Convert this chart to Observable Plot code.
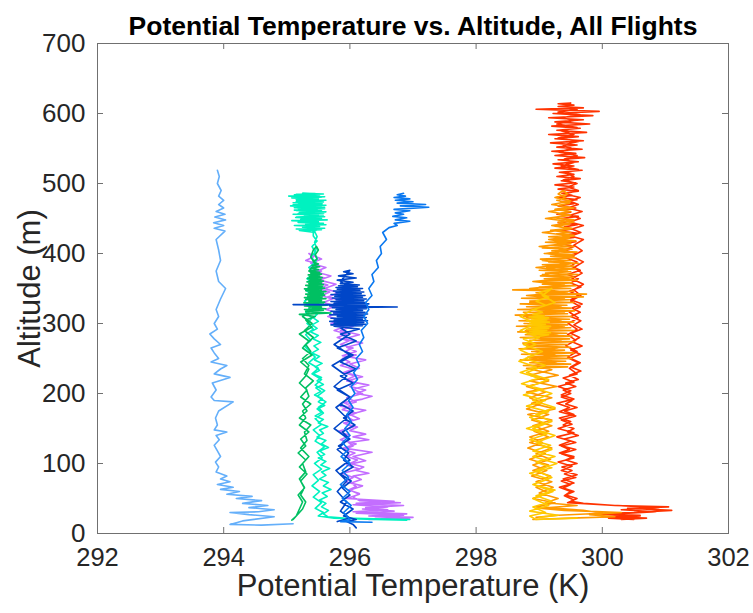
<!DOCTYPE html>
<html>
<head>
<meta charset="utf-8">
<script src="https://cdn.jsdelivr.net/npm/d3@7"></script>
<script src="https://cdn.jsdelivr.net/npm/@observablehq/plot@0.6"></script>
<style>
  html, body { margin: 0; padding: 0; background: #fff; }
  #chart svg { display: block; }
</style>
</head>
<body>
<div id="chart"></div>
<script>
// ---- Data: [potential temperature (K), altitude (m)] per flight, in flight order ----
const flightLightBlue = [[295.10,14],[294.60,12],[294.10,13],[294.30,18],[294.80,24],[294.40,27],[294.10,30],[294.55,31],[294.80,34],[294.40,37],[294.70,40],[294.30,43],[294.60,47],[294.20,50],[294.45,53],[294.05,56],[294.25,60],[293.95,63],[294.15,66],[293.90,70],[294.10,74],[293.95,78],[294.05,82],[293.88,88],[293.92,95],[293.87,102],[293.95,110],[293.90,118],[293.85,126],[293.93,134],[293.88,140],[294.05,145],[293.85,148],[293.90,155],[293.87,165],[293.92,175],[294.15,188],[293.85,190],[293.80,195],[293.88,205],[293.82,215],[294.10,223],[293.85,228],[293.95,235],[294.05,240],[293.80,245],[293.92,250],[293.85,258],[293.80,265],[293.95,270],[293.85,278],[293.78,285],[293.90,292],[293.85,300],[293.92,310],[293.88,320],[293.95,335],[294.03,350],[293.92,360],[293.88,375],[293.95,390],[293.92,405],[293.88,420],[294.02,432],[293.85,436],[294.00,440],[293.84,444],[294.03,448],[293.86,452],[294.02,456],[293.88,460],[294.00,465],[293.92,470],[294.00,476],[293.92,482],[293.96,490],[293.90,500],[293.93,510],[293.90,519]];

const flightPurple = [[296.30,20],[296.95,22],[296.40,24],[296.85,26],[296.10,29],[296.70,32],[296.20,35],[296.60,38],[296.05,41],[296.80,44],[296.15,47],[296.05,52],[296.15,57],[295.98,62],[296.10,67],[296.02,72],[296.18,77],[296.05,82],[296.30,86],[296.10,90],[296.22,95],[296.00,100],[296.12,105],[295.95,110],[296.08,115],[295.90,120],[296.05,125],[295.98,130],[296.30,134],[296.05,138],[296.25,142],[296.00,147],[296.12,152],[295.92,157],[296.05,162],[295.95,167],[296.10,172],[295.88,177],[296.02,182],[295.90,187],[296.20,192],[296.35,196],[296.10,200],[296.25,205],[296.00,210],[296.12,215],[295.95,220],[296.08,225],[295.90,230],[296.05,235],[295.85,240],[296.00,245],[295.88,250],[296.10,255],[295.92,260],[296.05,265],[295.85,270],[295.98,275],[295.80,280],[295.95,285],[295.75,290],[295.90,295],[295.70,300],[295.85,305],[295.65,310],[295.80,315],[295.62,320],[295.78,325],[295.58,330],[295.72,335],[295.55,340],[295.68,345],[295.50,350],[295.65,355],[295.45,360],[295.60,365],[295.40,370],[295.55,375],[295.35,380],[295.50,385],[295.30,390],[295.42,395],[295.35,400],[295.40,398],[295.55,392],[295.38,386],[295.62,380],[295.45,374],[295.70,368],[295.52,362],[295.78,356],[295.60,350],[295.82,344],[295.65,338],[295.88,332],[295.70,326],[295.92,320],[295.75,314],[296.00,308],[295.80,302],[296.05,296],[295.85,290],[296.15,284],[295.90,278],[296.20,272],[295.95,266],[296.10,260],[295.88,254],[296.25,248],[296.00,242],[296.15,236],[295.92,230],[296.20,224],[295.95,218],[296.30,212],[296.05,206],[296.20,200],[295.95,194],[296.10,188],[295.85,182],[296.25,176],[296.00,170],[296.15,164],[295.90,158],[296.05,152],[295.82,146],[296.00,140],[295.85,134],[296.10,128],[295.90,122],[296.35,116],[296.05,110],[296.25,104],[295.95,98],[296.15,92],[295.88,86],[296.05,80],[295.92,74],[296.20,68],[296.00,62],[296.15,56],[295.95,50],[296.70,46],[296.10,43],[296.85,40],[296.25,37],[296.60,34],[296.05,31],[296.90,28],[296.30,25],[297.00,23],[296.50,21]];

const flightMint = [[296.95,20],[296.40,21],[295.90,22],[295.65,24],[295.58,28],[295.66,33],[295.55,38],[295.62,43],[295.52,48],[295.64,53],[295.56,58],[295.70,63],[295.58,68],[295.66,73],[295.52,78],[295.62,83],[295.55,88],[295.68,93],[295.54,98],[295.62,103],[295.50,108],[295.60,113],[295.52,118],[295.66,123],[295.55,128],[295.62,133],[295.48,138],[295.58,143],[295.52,148],[295.65,153],[295.50,158],[295.58,163],[295.45,168],[295.55,173],[295.48,178],[295.60,183],[295.50,188],[295.56,193],[295.44,198],[295.54,203],[295.46,208],[295.58,213],[295.48,218],[295.55,223],[295.42,228],[295.52,233],[295.45,238],[295.56,243],[295.44,248],[295.52,253],[295.40,258],[295.50,263],[295.43,268],[295.54,273],[295.42,278],[295.50,283],[295.38,288],[295.48,293],[295.40,298],[295.50,303],[295.42,308],[295.48,313],[295.38,318],[295.46,323],[295.40,330],[295.48,337],[295.42,344],[295.46,351],[295.40,358],[295.47,365],[295.42,372],[295.46,379],[295.43,386],[295.48,393],[295.44,400],[295.47,408],[295.44,416],[295.48,424],[295.45,430],
  [295.20,433],[295.55,434],[295.15,435],[295.60,436],[295.25,437.5],[295.52,438.5],[295.12,440],[295.62,441],[295.30,442],[295.58,443],[295.18,444.5],[295.50,445.5],[295.08,447],[295.64,448],[295.22,449],[295.55,450],[295.14,451.5],[295.60,452.5],[295.28,454],[295.50,455],[295.10,456],[295.58,457],[295.20,458.5],[295.62,459.5],[295.15,461],[295.48,462],[295.25,463],[295.60,464],[295.12,465.5],[295.55,466.5],[295.06,468],[295.62,469],[295.18,470],[295.52,471],[295.10,472.5],[295.58,473.5],[295.22,475],[295.62,476],[295.15,477],[295.50,478],[295.08,479.5],[295.55,480.5],[295.03,482],[295.48,483],[295.12,484],[295.58,485],[295.25,486],
  [295.45,485.5],[295.15,484.5],[295.52,483.5],[295.20,482],[295.60,481],[295.12,479.5],[295.50,478.5],[295.25,477],[295.62,476],[295.15,474.5],[295.48,473.5],[295.22,472],[295.56,471],[295.10,469.5],[295.52,468.5],[295.28,467],[295.60,466],[295.18,464.5],[295.45,463.5],[295.12,462],[295.55,461],[295.25,459.5],[295.60,458.5],[295.18,457],[295.50,456],[295.30,454.5],[295.58,453.5],[295.15,452],[295.48,451],[295.25,449.5],[295.55,448.5],[295.20,447],[295.45,446],[295.28,444.5],[295.52,443.5],[295.35,442],[295.48,441],[295.30,439.5],[295.50,438],[295.40,436],[295.48,434],[295.42,431],
  [295.42,425],[295.48,418],[295.40,410],[295.45,402],[295.38,395],[295.46,388],[295.35,380],[295.44,372],[295.32,364],[295.42,356],[295.30,348],[295.40,340],[295.28,332],[295.38,324],[295.30,316],[295.40,308],[295.32,300],[295.42,292],[295.30,284],[295.38,276],[295.28,268],[295.36,260],[295.45,252],[295.35,244],[295.50,236],[295.40,228],[295.55,220],[295.45,212],[295.60,204],[295.48,196],[295.62,188],[295.50,180],[295.58,172],[295.45,164],[295.55,156],[295.42,148],[295.52,140],[295.45,132],[295.60,124],[295.48,116],[295.56,108],[295.44,100],[295.55,92],[295.42,84],[295.50,76],[295.40,68],[295.52,60],[295.42,52],[295.55,44],[295.45,36],[295.58,30],[295.50,25],[295.75,22],[296.40,20],[296.90,19]];

const flightGreen = [[295.08,19],[295.15,25],[295.20,35],[295.25,45],[295.18,55],[295.28,65],[295.22,75],[295.32,85],[295.20,95],[295.30,105],[295.18,115],[295.30,125],[295.22,135],[295.35,145],[295.20,155],[295.30,165],[295.25,175],[295.38,185],[295.22,195],[295.32,205],[295.20,215],[295.30,225],[295.35,235],[295.22,245],[295.40,255],[295.25,265],[295.35,275],[295.20,285],[295.40,295],[295.30,305],[295.45,310],[295.20,313],[295.70,315],[295.30,317],
  [295.30,318],[295.58,319],[295.28,320],[295.62,321],[295.35,322.5],[295.55,323.5],[295.28,325],[295.64,326],[295.32,327],[295.58,328],[295.27,329.5],[295.60,330.5],[295.35,332],[295.55,333],[295.30,334.5],[295.62,335.5],[295.28,337],[295.56,338],[295.33,339.5],[295.60,340.5],[295.30,342],[295.58,343],[295.35,344.5],[295.62,345.5],[295.30,347],[295.55,348],[295.28,349.5],[295.60,350.5],[295.34,352],[295.56,353],[295.30,354.5],[295.58,355.5],[295.35,357],[295.55,358],[295.32,359.5],[295.58,360.5],[295.36,362],[295.54,363],[295.33,364.5],[295.56,365.5],[295.36,367],[295.52,368],[295.34,369.5],[295.55,370.5],[295.38,372],[295.52,373],[295.36,375],[295.50,377],[295.38,379],[295.52,381],[295.40,383],[295.50,385],[295.42,388],[295.48,392],[295.45,398],[295.50,405],[295.47,410],
  [295.42,405],[295.38,395],[295.45,385],[295.35,375],[295.52,365],[295.36,355],[295.55,345],[295.32,335],[295.50,325],[295.25,310],[295.40,300],[295.28,290],[295.42,280],[295.30,270],[295.38,260],[295.25,250],[295.35,240],[295.28,228],[295.42,218],[295.30,208],[295.35,196],[295.25,185],[295.32,175],[295.20,165],[295.38,155],[295.28,145],[295.32,133],[295.22,122],[295.35,110],[295.25,100],[295.30,88],[295.20,78],[295.28,66],[295.22,55],[295.30,45],[295.25,35],[295.15,25],[295.10,20]];

const flightDarkBlue = [[296.10,8],[296.05,13],[295.95,17],[296.10,20],[295.90,25],[296.05,35],[295.85,45],[296.00,55],[295.88,65],[296.02,75],[295.85,85],[296.05,95],[295.90,105],[295.98,115],[295.82,125],[296.00,135],[295.88,145],[296.08,155],[295.90,165],[296.05,175],[295.85,185],[296.00,195],[295.80,205],[296.05,215],[295.85,225],[296.10,235],[295.85,245],[296.05,255],[295.80,265],[296.10,275],[295.85,285],[296.15,292],
  [295.75,296],[296.20,297],[295.70,298],[296.25,299],[295.78,300.5],[296.22,301.5],[295.68,303],[296.28,304],[295.75,305],[296.20,306],[295.70,307.5],[296.26,308.5],[295.80,310],[296.22,311],[295.68,312.5],[296.28,313.5],[295.74,315],[296.24,316],[295.70,317.5],[296.20,318.5],[295.78,320],[296.26,321],[295.72,322.5],[296.75,323.5],[295.68,325],[296.28,326],[295.10,327],[296.30,328],[295.75,329],[296.25,330],[295.70,331.5],[296.22,332.5],[295.78,334],[296.26,335],[295.72,336.5],[296.20,337.5],[295.76,339],[296.24,340],[295.70,341.5],[296.18,342.5],[295.78,344],[296.22,345],[295.74,346.5],[296.16,347.5],[295.80,349],[296.20,350],[295.78,351.5],[296.12,352.5],[295.82,354],[296.15,355],[295.85,357],[296.05,359],[295.80,362],[296.10,365],[295.82,368],[296.05,371],[295.90,374],[296.00,376],
  [295.85,360],[296.10,345],[295.80,330],[296.05,315],[295.75,300],[296.00,285],[295.75,270],[296.00,255],[295.72,240],[295.95,225],[295.75,210],[296.00,195],[295.78,180],[295.95,165],[295.75,150],[295.98,135],[295.80,120],[296.00,105],[295.78,90],[295.95,75],[295.80,60],[295.95,45],[295.85,32],[296.00,22],[295.80,17]];

const flightBlue = [[296.35,16],[295.85,17],[296.00,20],[295.90,30],[296.02,40],[295.88,50],[296.00,60],[295.85,70],[295.98,80],[295.88,90],[296.00,100],[295.86,110],[295.98,120],[295.88,130],[296.00,140],[295.92,150],[296.02,160],[295.95,170],[296.05,180],[295.98,190],[296.08,200],[296.02,210],[296.12,220],[296.06,230],[296.15,240],[296.10,250],[296.20,260],[296.15,270],[296.22,280],[296.18,290],[296.28,300],[296.22,310],[296.30,320],[296.25,330],[296.35,340],[296.30,350],[296.38,360],[296.35,370],[296.45,380],[296.42,390],[296.50,400],[296.48,410],[296.58,420],[296.52,430],[296.62,437],[296.75,440],[296.70,443],[296.95,446],[296.72,448],[296.90,451],[296.68,453],[296.85,456],[296.72,458],[296.95,461],[296.70,463],[297.25,466],[296.80,468],[297.20,470],[296.75,472],[297.00,474],[296.72,476],[296.95,478],[296.70,480],[296.88,482],[296.75,484],[296.85,486]];

const flightRed = [[300.30,20],[300.70,22],[300.00,24],[300.60,26],[299.80,28],[300.50,30],[301.10,33],[300.40,36],[301.05,38],[300.20,40],[299.70,43],[299.50,46],[299.60,50],[299.42,55],[299.55,60],[299.38,65],[299.50,70],[299.35,75],[299.58,80],[299.40,85],[299.52,90],[299.36,95],[299.60,100],[299.42,105],[299.55,110],[299.32,115],[299.48,120],[299.35,125],[299.58,130],[299.40,135],[299.62,140],[299.45,145],[299.55,150],[299.38,155],[299.50,160],[299.32,165],[299.55,170],[299.40,175],[299.60,180],[299.42,185],[299.52,190],[299.35,195],[299.50,200],[299.38,205],[299.58,210],[299.42,215],[299.62,220],[299.48,226],[299.66,232],[299.50,238],[299.62,244],[299.48,250],[299.65,256],[299.50,262],[299.68,268],[299.52,274],[299.64,280],[299.50,286],[299.68,292],[299.55,298],[299.66,304],[299.50,310],[299.65,316],[299.52,322],[299.68,328],[299.50,334],[299.62,340],[299.48,346],[299.66,352],[299.50,358],[299.62,364],[299.45,370],[299.65,376],[299.50,382],[299.60,388],[299.42,394],[299.58,400],[299.40,405],[299.55,410],
  [299.35,414],[299.58,417],[299.30,420],[299.55,423],[299.38,426],[299.62,429],[299.32,432],[299.52,435],[299.40,438],[299.60,441],[299.30,444],[299.55,447],[299.35,450],[299.62,453],[299.28,456],[299.50,459],[299.38,462],[299.58,465],[299.30,468],[299.55,471],[299.34,474],[299.60,477],[299.28,480],[299.52,483],[299.36,486],[299.62,489],[299.30,492],[299.55,495],[299.25,498],[299.58,501],[299.35,504],[299.65,507],[299.28,510],[299.55,513],[299.32,516],[299.68,519],[299.25,522],[299.55,525],[299.22,528],[299.62,531],[299.30,534],[299.72,537],[299.25,540],[299.58,543],[299.20,546],[299.68,549],[299.28,552],[299.60,555],[299.18,558],[299.70,561],[299.25,564],[299.62,567],[299.15,570],[299.75,573],[299.28,576],[299.65,579],[299.20,582],[299.80,585],[299.25,588],[299.70,591],[299.15,594],[299.85,597],[299.22,600],[299.95,603],[298.95,606],[299.70,608],[299.30,610],[299.55,612],[299.30,614],[299.50,615],
  [299.40,610],[299.60,606],[299.30,602],[299.65,598],[299.35,594],[299.55,590],[299.28,585],[299.60,580],[299.35,575],[299.55,570],[299.30,565],[299.62,560],[299.38,555],[299.52,550],[299.30,545],[299.60,540],[299.40,535],[299.55,530],[299.35,525],[299.62,520],[299.42,515],[299.55,510],[299.38,505],[299.60,500],[299.45,495],[299.62,490],[299.40,485],[299.65,480],[299.48,475],[299.62,470],[299.45,465],[299.68,460],[299.50,455],[299.65,450],[299.48,445],[299.70,440],[299.52,435],[299.66,430],[299.50,425],[299.70,420],[299.55,412],[299.68,404],[299.52,396],[299.70,388],[299.55,380],[299.68,372],[299.52,364],[299.70,356],[299.55,348],[299.66,340],[299.50,332],[299.65,324],[299.48,316],[299.62,308],[299.46,300],[299.60,292],[299.45,284],[299.58,276],[299.42,268],[299.60,260],[299.45,252],[299.65,244],[299.48,236],[299.60,228],[299.38,222],[299.55,216],[299.30,210],[299.50,204],[299.35,198],[299.55,192],[299.28,186],[299.48,180],[299.32,174],[299.58,168],[299.35,162],[299.52,156],[299.30,150],[299.55,144],[299.28,138],[299.50,132],[299.32,126],[299.58,120],[299.35,114],[299.55,108],[299.30,102],[299.52,96],[299.35,90],[299.60,84],[299.38,78],[299.55,72],[299.32,66],[299.50,60],[299.40,54],[299.55,48],[299.45,44],[300.00,41],[300.90,37],[300.30,34],[300.85,31],[300.20,28],[300.60,25],[300.10,22],[300.50,20]];

const flightOrange = [[298.90,20],[299.50,22],[300.20,24],[299.80,27],[300.30,30],[299.40,33],[299.00,36],[299.60,40],[299.10,44],[299.30,50],[299.00,58],[299.22,66],[298.95,74],[299.18,82],[298.90,90],[299.15,98],[298.85,106],[299.10,114],[298.82,122],[299.05,130],[298.85,138],[299.15,146],[298.90,154],[299.20,162],[298.82,170],[299.25,178],[298.88,186],[299.20,194],[298.80,202],[299.28,210],[298.85,218],[299.30,226],
  [298.80,236],[299.45,238],[298.75,240],[299.50,242],[298.85,244],[299.42,246],[298.70,248],[299.52,250],[298.82,252],[299.48,254],[298.72,256],[299.55,258],[298.88,260],[299.40,262],[298.68,264],[299.50,266],[298.80,268],[299.45,270],[298.74,272],[299.55,274],[298.85,276],[299.48,278],[298.70,280],[299.52,282],[298.78,284],[299.44,286],[298.66,288],[299.55,290],[298.82,292],[299.50,294],[298.64,296],[299.45,298],[298.76,300],[299.55,302],[298.68,304],[299.48,306],[298.80,308],[299.52,310],[298.62,312],[299.45,314],[298.75,316],[299.56,318],[298.66,320],[299.50,322],[298.80,324],[299.44,326],[298.70,328],[299.55,330],[298.85,332],[299.48,334],[298.72,336],[299.70,338],[298.90,340],[299.75,342],[298.95,344],[299.55,346],[298.58,348],[299.50,350],[299.00,352],[299.58,354],[299.05,356],[299.52,358],[298.98,360],[299.60,362],[299.08,364],[299.55,366],[299.02,368],[299.62,370],[299.10,372],[299.50,374],[299.00,376],[299.58,378],[299.12,380],[299.55,382],[299.05,384],[299.62,386],[299.15,388],[299.50,390],[299.02,392],[299.58,394],[299.18,396],[299.55,398],[299.08,400],[299.60,402],[299.20,404],[299.52,406],[299.05,408],[299.55,410],[299.22,412],[299.50,414],[299.10,416],[299.58,418],[299.25,420],[299.48,422],[299.15,424],[299.55,426],[299.28,428],[299.50,430],[299.18,433],[299.52,436],[299.25,439],[299.48,442],[299.30,445],[299.55,448],[299.22,451],[299.45,454],[299.30,457],[299.50,460],[299.25,463],[299.45,466],[299.32,469],[299.48,472],[299.28,476],[299.42,480],[299.30,485],[299.38,490],
  [299.45,485],[299.25,480],[299.50,475],[299.20,470],[299.55,465],[299.15,460],[299.50,455],[299.10,450],[299.55,445],[299.20,440],[299.50,435],[299.05,430],[299.55,425],[299.15,420],[299.50,415],[299.00,410],[299.45,405],[299.10,400],[299.55,395],[299.05,390],[299.50,385],[298.95,380],[299.45,375],[299.05,370],[299.50,365],[298.90,360],[299.40,355],[298.85,350],[299.45,345],[298.80,340],[299.40,335],[298.85,330],[299.35,325],[298.80,320],[299.40,315],[298.75,310],[299.35,305],[298.85,300],[299.40,295],[298.78,290],[299.30,285],[298.85,280],[299.35,275],[298.80,270],[299.30,265],[298.90,260],[299.25,255],[298.85,250],[299.28,245],[298.90,240],[299.20,234],[298.85,226],[299.15,218],[298.80,210],[299.10,202],[298.85,194],[299.05,186],[298.80,178],[299.15,170],[298.88,162],[299.20,154],[298.92,146],[299.15,138],[298.85,130],[299.20,122],[298.95,114],[299.18,106],[298.90,98],[299.12,90],[298.88,82],[299.20,74],[298.95,66],[299.15,58],[298.90,50],[299.25,44],[298.95,38],[299.70,33],[300.00,29],[299.30,26],[298.95,23]];

const flightGold = [[299.60,22],[298.95,20],[298.85,25],[299.10,30],[298.90,38],[299.20,46],[298.95,54],[299.25,62],[298.90,70],[299.15,78],[298.85,86],[299.20,94],[298.95,102],[299.25,110],[298.90,118],[299.18,126],[298.85,134],[299.12,142],[298.80,150],[299.08,158],[298.85,166],[299.15,174],[298.80,182],[299.10,190],[298.75,198],[299.05,206],[298.72,214],[299.00,222],[298.70,230],[298.95,238],[298.68,246],[298.90,254],[298.70,262],[298.95,270],[298.75,278],
  [299.15,284],[298.82,285.5],[299.18,287],[298.85,288.5],[299.12,290],[298.80,291.5],[299.15,293],[298.88,294.5],[299.18,296],[298.82,297.5],[299.10,299],[298.85,300.5],[299.16,302],[298.80,303.5],[299.12,305],[298.88,306.5],[299.15,308],[298.84,309.5],[299.08,311],[298.90,313],[299.05,316],[298.92,320],[299.10,326],[298.95,332],[299.15,338],[299.00,344],[299.20,350],
  [299.05,340],[299.25,330],[298.90,320],[298.70,310],[298.95,300],[298.70,290],[299.00,280],[298.75,270],[299.05,260],[298.78,250],[299.10,240],[298.80,230],[299.15,220],[298.85,210],[299.20,200],[298.90,190],[299.25,180],[298.95,170],[299.20,160],[298.90,150],[299.25,140],[298.95,130],[299.20,120],[298.90,110],[299.28,100],[298.95,90],[299.20,80],[298.90,70],[299.22,60],[298.90,50],[299.15,40],[298.85,32],[299.30,26],[299.00,23]];

const xTicks = [292, 294, 296, 298, 300, 302];
const yTicks = [0, 100, 200, 300, 400, 500, 600, 700];
const titleText = "Potential Temperature vs. Altitude, All Flights";
const xLabel = "Potential Temperature (K)";
const yLabel = "Altitude (m)";

// draw order and colours
const flights = [
  {name: "F1", pts: flightLightBlue, color: "#64AFFA"},
  {name: "F2", pts: flightPurple,    color: "#C36EFF"},
  {name: "F3", pts: flightMint,      color: "#00F2C0"},
  {name: "F4", pts: flightGreen,     color: "#00C062"},
  {name: "F5", pts: flightDarkBlue,  color: "#0046C8"},
  {name: "F6", pts: flightBlue,      color: "#0A78F0"},
  {name: "F7", pts: flightRed,       color: "#FF3300"},
  {name: "F8", pts: flightOrange,    color: "#FF9900"},
  {name: "F9", pts: flightGold,      color: "#FFC800"}
];
const rows = flights.flatMap(f => f.pts.map(([t, a]) => ({flight: f.name, theta: t, alt: a})));

const W = 753, H = 613;
const mL = 97, mR = 25, mT = 43, mB = 80;
const innerW = W - mL - mR, innerH = H - mT - mB;
const tickLen = 6;
const axisColor = "#707070";
const textColor = "#262626";
const font = "'Liberation Sans', Arial, Helvetica, sans-serif";

const chart = Plot.plot({
  width: W, height: H,
  marginLeft: mL, marginRight: mR, marginTop: mT, marginBottom: mB,
  style: {fontFamily: font, background: "#fff", overflow: "visible"},
  x: {domain: [292, 302]},
  y: {domain: [0, 700]},
  color: {domain: flights.map(f => f.name), range: flights.map(f => f.color)},
  marks: [
    Plot.line(rows, {x: "theta", y: "alt", z: "flight", stroke: "flight", strokeWidth: 1.6, strokeLinejoin: "round"}),
    Plot.frame({stroke: axisColor, strokeWidth: 1}),
    // inward ticks on all four sides
    Plot.tickX(xTicks, {x: d => d, stroke: axisColor, insetTop: innerH - tickLen}),
    Plot.tickX(xTicks, {x: d => d, stroke: axisColor, insetBottom: innerH - tickLen}),
    Plot.tickY(yTicks, {y: d => d, stroke: axisColor, insetRight: innerW - tickLen}),
    Plot.tickY(yTicks, {y: d => d, stroke: axisColor, insetLeft: innerW - tickLen}),
    Plot.axisX(xTicks, {tickSize: 0, tickPadding: 14, fontSize: 25.5, fill: textColor, label: null}),
    Plot.axisY(yTicks, {tickSize: 0, tickPadding: 12, fontSize: 26, fill: textColor, label: null}),
    Plot.text([xLabel], {frameAnchor: "bottom", dy: 62, fontSize: 31, fill: textColor}),
    Plot.text([yLabel], {frameAnchor: "left", textAnchor: "middle", dx: -67, rotate: -90, fontSize: 31, fill: textColor}),
    Plot.text([titleText], {frameAnchor: "top", dy: -27, fontSize: 26.5, fontWeight: "bold", fill: "#000"})
  ]
});
document.getElementById("chart").appendChild(chart);
</script>
</body>
</html>
